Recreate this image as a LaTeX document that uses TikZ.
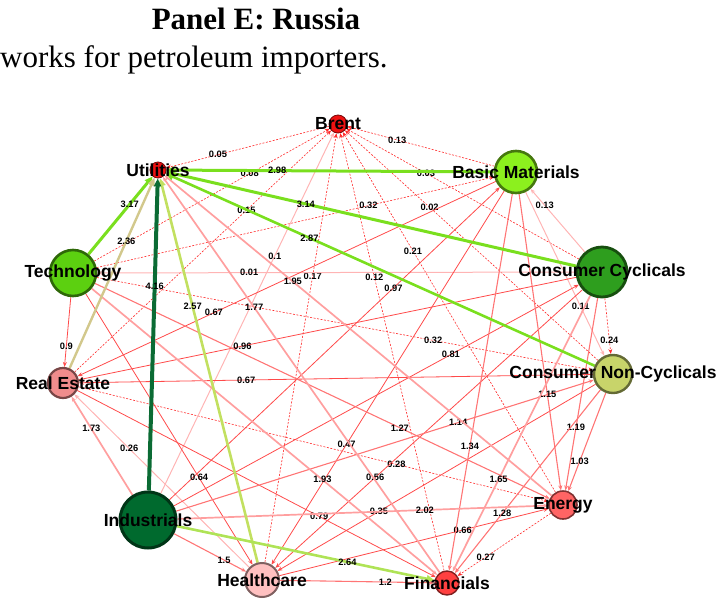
\documentclass[tikz,border=0pt]{standalone}
\usepackage{fontspec}
\setmainfont{Liberation Serif}
\setsansfont{Liberation Sans}
\usetikzlibrary{arrows.meta, calc, backgrounds}
\definecolor{nred}{HTML}{EE1111}
\definecolor{nbm}{HTML}{8CF01E}
\definecolor{ntech}{HTML}{5CD010}
\definecolor{ncc}{HTML}{2E9E1E}
\definecolor{nre}{HTML}{F08C8C}
\definecolor{ncn}{HTML}{C8D46A}
\definecolor{nind}{HTML}{006A2E}
\definecolor{nen}{HTML}{FF6464}
\definecolor{nhe}{HTML}{FFC0C0}
\definecolor{nfi}{HTML}{FF4040}
\definecolor{ered}{HTML}{FF2A2A}
\definecolor{glime}{HTML}{7ADF1E}
\definecolor{gdark}{HTML}{0B6B34}
\definecolor{gkhaki}{HTML}{D2C88C}
\definecolor{gyel}{HTML}{C2E060}
\tikzset{
  every picture/.style={font=\sffamily},
  nd/.style={circle, draw=#1!50!black, fill=#1, inner sep=0pt},
  nlab/.style={font=\sffamily\bfseries\fontsize{17.5}{20}\selectfont, inner sep=0pt},
  lbl/.style={font=\sffamily\bfseries\fontsize{9.3}{11}\selectfont, inner sep=0pt},
  rtip/.style={-{Stealth[length=5pt, width=4pt]}},
  rdash/.style={rtip, draw=ered, line width=0.6pt, dash pattern=on 2pt off 1.5pt},
  rfaint/.style={rtip, draw=ered!35, line width=1pt},
  rthin/.style={rtip, draw=ered!85, line width=0.8pt},
  rmid/.style={rtip, draw=ered!65, line width=1.1pt},
  rthick/.style={rtip, draw=ered!45, line width=1.7pt},
  gedge/.style={draw=#1, -{Triangle[length=8pt, width=7pt]}},
}
\begin{document}
\begin{tikzpicture}[x=1pt, y=-1pt]
  \useasboundingbox (0,0) rectangle (720,600);
  \node[font=\fontsize{31}{35}\selectfont\bfseries\rmfamily, anchor=base, inner sep=0pt] (ttl) at (256,29) {Panel E: Russia};
  \node[font=\fontsize{31}{35}\selectfont\rmfamily, anchor=base west, inner sep=0pt] (cap) at (0,67) {works for petroleum importers.};
  % sectors
  \foreach \n/\x/\y/\d/\c/\w/\lab in {br/338/124/18/nred/0.8/Brent, ut/158/170/16/nred/0.8/Utilities,
      bm/516/172/42/nbm/2.6/Basic Materials, te/73/273/46/ntech/2.6/Technology,
      cc/602/272/50/ncc/2.8/Consumer Cyclicals, re/63/383/30/nre/2.2/Real Estate,
      cn/613/374/38/ncn/2.4/Consumer Non-Cyclicals, ind/148/520/56/nind/3/Industrials,
      en/563/505/28/nen/1.6/Energy, he/262/580/34/nhe/2/Healthcare, fi/447/583/24/nfi/1.4/Financials}
    \node[nd=\c, line width=\w pt, minimum size=\d pt, label={[nlab]center:\lab}] (\n) at (\x,\y) {};
  \begin{scope}[on background layer]
    \foreach \a/\b/\v in {br/ut/0.05, bm/br/0.13, te/br/0.08, cc/br/0.03, re/br/0.15, cn/br/0.02,
        en/br/0.21, he/br/0.17, fi/br/0.12, te/bm/0.32, te/cn/0.32, cc/cn/0.24, re/en/0.28, en/fi/0.27}
      \draw[rdash] (\a) -- (\b) node[lbl, at={($(\a)!0.667!(\b)$)}] {\v};
    \foreach \a/\b/\v in {cc/te/0.01, ind/br/0.1, bm/cn/0.11, cc/bm/0.13, he/re/0.26}
      \draw[rfaint] (\a) -- (\b) node[lbl, at={($(\a)!0.667!(\b)$)}] {\v};
    \foreach \a/\b/\v in {bm/re/0.67, cn/re/0.67, te/re/0.9, cc/re/0.96, ind/cc/0.81, ind/bm/0.97,
        te/he/0.64, re/fi/0.79, bm/he/0.47, he/en/0.66, cc/he/0.56, cn/he/0.35}
      \draw[rthin] (\a) -- (\b) node[lbl, at={($(\a)!0.667!(\b)$)}] {\v};
    \foreach \a/\b/\v in {te/en/1.27, ind/cn/1.14, bm/fi/1.34, cc/en/1.19, cn/en/1.03, bm/en/1.15,
        cn/fi/1.28, ind/he/1.5, he/fi/1.2}
      \draw[rmid] (\a) -- (\b) node[lbl, at={($(\a)!0.667!(\b)$)}] {\v};
    \foreach \a/\b/\v in {en/ut/1.95, fi/ut/1.77, ind/re/1.73, te/fi/1.93, cc/fi/1.65, ind/en/2.02}
      \draw[rthick] (\a) -- (\b) node[lbl, at={($(\a)!0.667!(\b)$)}] {\v};
    % strong links
    \foreach \a/\v in {te/3.17, bm/2.98, cc/3.14}
      \draw[gedge=glime, line width=3pt] (\a) -- (ut) node[lbl, at={($(\a)!0.667!(ut)$)}] {\v};
    \draw[gedge=glime, line width=2.6pt] (cn) -- (ut) node[lbl, at={($(cn)!0.667!(ut)$)}] {2.87};
    \draw[gedge=gkhaki, line width=2.4pt] (re) -- (ut) node[lbl, at={($(re)!0.667!(ut)$)}] {2.36};
    \draw[gedge=gyel, line width=2.6pt] (he) -- (ut) node[lbl, at={($(he)!0.667!(ut)$)}] {2.57};
    \draw[gedge=gdark, line width=4pt] (ind) -- (ut) node[lbl, at={($(ind)!0.667!(ut)$)}] {4.16};
    \draw[gedge=gyel!90!green, line width=2.6pt] (ind) -- (fi) node[lbl, at={($(ind)!0.667!(fi)$)}] {2.64};
  \end{scope}
\end{tikzpicture}
\end{document}
